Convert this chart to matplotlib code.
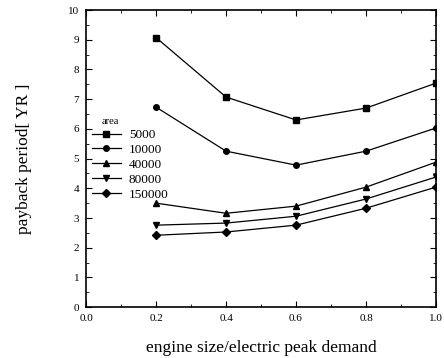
import matplotlib
matplotlib.use("Agg")
import matplotlib.pyplot as plt
from matplotlib.ticker import MultipleLocator

plt.rcParams['font.family'] = ['Liberation Serif', 'DejaVu Serif']

x = [0.2, 0.4, 0.6, 0.8, 1.0]
areas = ["5000", "10000", "40000", "80000", "150000"]
s5000 = [9.07, 7.07, 6.30, 6.70, 7.54]
s10000 = [6.73, 5.25, 4.78, 5.25, 6.03]
s40000 = [3.50, 3.16, 3.40, 4.04, 4.88]
s80000 = [2.76, 2.83, 3.06, 3.64, 4.38]
s150000 = [2.42, 2.53, 2.76, 3.33, 4.04]
series = [s5000, s10000, s40000, s80000, s150000]
markers = ['s', 'o', '^', 'v', 'D']
msizes = [4, 4, 4.5, 4.5, 3.8]

fig = plt.figure(figsize=(4.44, 3.58), dpi=100)
ax = fig.add_axes([0.194, 0.142, 0.788, 0.830])

for lab, ys, m, ms in zip(areas, series, markers, msizes):
    ax.plot(x, ys, color='black', lw=0.9, marker=m, ms=ms, label=lab)

ax.set_xlim(0.0, 1.0)
ax.set_ylim(0, 10)
ax.xaxis.set_major_locator(MultipleLocator(0.2))
ax.xaxis.set_minor_locator(MultipleLocator(0.1))
ax.yaxis.set_major_locator(MultipleLocator(1))
ax.yaxis.set_minor_locator(MultipleLocator(0.5))
ax.xaxis.set_major_formatter(plt.FuncFormatter(lambda v, p: f"{v:.1f}"))
ax.tick_params(which='both', direction='in', top=True, right=True, labelsize=8)
ax.tick_params(which='major', length=4, pad=5)
ax.tick_params(which='minor', length=2)
for sp in ax.spines.values():
    sp.set_linewidth(1.2)

ax.set_xlabel("engine size/electric peak demand", fontsize=12.5, labelpad=12)
ax.set_ylabel("payback period[ YR ]", fontsize=12.5, labelpad=26)

leg = ax.legend(title="area", loc='upper left', bbox_to_anchor=(-0.01, 0.67),
                frameon=False, fontsize=9.5, title_fontsize=7.5, handlelength=2.2,
                labelspacing=0.2, borderpad=0.2, handletextpad=0.6)
leg._legend_box.align = "left"
leg.get_title().set_position((10, 0))

fig.savefig("out.png", dpi=100)
